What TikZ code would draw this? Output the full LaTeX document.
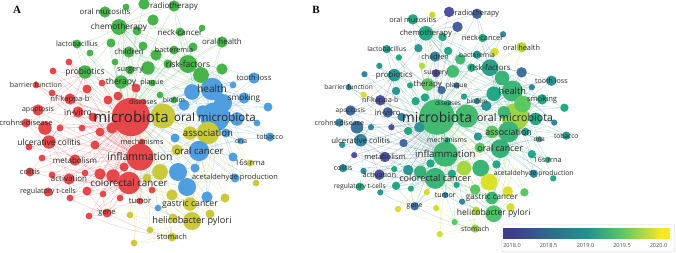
\documentclass[tikz,border=0pt]{standalone}
\usepackage{fontspec}
\setmainfont{Open Sans}
\newfontfamily\letterfont{Liberation Serif}
\pgfdeclarelayer{edges}
\pgfdeclarelayer{labels}
\pgfsetlayers{edges,main,labels}
\definecolor{cR}{HTML}{E6474A}
\definecolor{cG}{HTML}{46B34B}
\definecolor{cB}{HTML}{4F9FE0}
\definecolor{cY}{HTML}{C9C93A}
\definecolor{yA}{HTML}{5050A0}
\definecolor{yB}{HTML}{3585A0}
\definecolor{yC}{HTML}{23A884}
\definecolor{yD}{HTML}{5CC863}
\definecolor{yE}{HTML}{F2E51E}
\definecolor{barA}{HTML}{3F3D8A}
\definecolor{barB}{HTML}{30698E}
\definecolor{barC}{HTML}{21918C}
\definecolor{barD}{HTML}{5EC962}
\definecolor{barE}{HTML}{FDE725}
\definecolor{labtxt}{HTML}{262626}
\pgfdeclarehorizontalshading{viridisH}{100bp}{color(0bp)=(barA); color(25bp)=(barA); color(27.7bp)=(barA); color(38.5bp)=(barB); color(50bp)=(barC); color(61bp)=(barD); color(72.5bp)=(barE); color(75bp)=(barE); color(100bp)=(barE)}
\def\NodeList{%
micro/131/117/17/cR/yC!45!yD,
oralmic/215/117/13/cB/yD!55!yE,
health/212/89/10/cB/yC!55!yD,
assoc/208/133/10/cY/yC!60!yD,
oralcan/199/151/9/cB/yC!70!yD,
inflam/140/157/12/cR/yC!50!yD,
colorec/129/183/10/cR/yC!60!yD,
helico/192/221/8/cY/yD!80!yC,
gastric/190/204/6/cY/yC!50!yD,
chemo/119/27/7/cG/yC,
risk/188/64/8/cG/yC!80!yB,
therapy/121/82/6/cG/yD,
probio/85/72/6/cG/yB!50!yC,
oralhealth/222/42/5/cG/yD!40!yE,
neck/180/32/4/cG/yC,
radio/174/6/5/cG/yA!60!yB,
mucos/105/12/5/cG/yC,
lacto/77/44/4/cG/yC!70!yB,
children/129/52/5/cG/yB,
bacter/174/50/4/cG/yB!50!yC,
surgery/130/70/4/cG/yA,
plaque/152/83/3/cG/yA!50!yB,
biofilm/174/100/3/cG/yB,
diseases/143/102/3/cR/yC,
tooth/254/78/5/cB/yB!60!yC,
smoking/244/98/5/cB/yC,
dna/241/141/3/cB/yC,
tobacco/270/137/4/cB/yB!50!yC,
rrna/250/163/3/cY/yC,
acetal/235/178/4/cB/yB,
stomach/172/237/4/cY/yD!60!yE,
tumor/140/201/3/cR/yB,
gene/107/213/4/cR/yB!60!yA,
mech/142/142/3/cR/yC,
metab/75/160/5/cR/yA,
ulcer/49/142/6/cR/yB,
colitis/30/172/4/cR/yB!50!yC,
activ/69/179/5/cR/yA,
regt/48/192/4/cR/yC,
crohn/26/123/4/cR/yB,
apop/38/110/5/cR/yA!50!yB,
invitro/78/112/5/cR/yA!60!yB,
nfkb/70/99/5/cR/yA,
barrier/36/85/3/cR/yB,
g1/144/4/5/cG/yA,
g2/126/7/3/cG/yD!30!yE,
g3/153/20/5/cG/yA!70!yB,
g4/137/31/4/cG/yC,
g5/111/43/4/cG/yB!40!yC,
g6/143/46/4/cG/yC,
g7/156/55/5/cG/yC!50!yD,
g8/90/53/3/cG/yC,
g9/115/62/3/cG/yD!40!yE,
g10/148/68/6/cG/yC!40!yD,
g11/168/64/4/cG/yC,
g12/201/75/7/cG/yC!60!yD,
g13/222/69/5/cG/yA!40!yB,
g14/193/47/4/cG/yE!80!yD,
g15/202/28/3/cG/yB,
g16/160/95/3/cG/yC,
r1/69/62/3/cR/yB!50!yC,
r2/53/71/3/cR/yB,
r3/87/89/4/cR/yB!50!yC,
r4/102/83/3/cR/yC,
r5/136/88/4/cR/yA!50!yB,
r6/108/100/4/cR/yC,
r7/93/117/4/cR/yB,
r8/45/128/6/cR/yB!70!yA,
r9/52/93/3/cR/yE!80!yD,
r10/100/132/4/cR/yC,
r11/95/145/4/cR/yA!50!yB,
r12/29/147/3/cR/yB!50!yC,
r13/42/158/3/cR/yA,
r14/52/175/3/cR/yB,
r15/85/173/3/cR/yC,
r16/100/174/5/cR/yB!50!yC,
r17/113/176/6/cR/yC!70!yD,
r18/124/167/4/cR/yC,
r19/87/191/4/cR/yC,
r20/70/198/3/cR/yB!40!yC,
r21/103/194/3/cR/yC,
r22/120/198/3/cR/yE!80!yD,
r23/89/216/3/cR/yE!80!yD,
r24/152/190/3/cR/yC,
r25/112/128/5/cR/yB!50!yC,
r26/118/96/4/cR/yC,
r27/60/128/3/cR/yB,
r28/82/128/3/cR/yA,
b1/192/92/7/cB/yC,
b2/184/105/5/cB/yB!60!yC,
b3/223/103/8/cB/yD,
b4/237/119/6/cB/yC,
b5/257/123/3/cB/yB,
b6/268/107/4/cB/yC,
b7/233/85/3/cB/yB,
b8/175/138/4/cB/yB!40!yC,
b9/178/172/8/cB/yC!60!yD,
b10/187/187/8/cB/yE!85!yD,
b11/207/197/5/cB/yE!85!yD,
b12/195/168/4/cB/yC,
b13/233/157/4/cB/yC,
b14/158/208/3/cB/yB,
b15/203/112/6/cB/yC!50!yD,
b16/226/133/4/cB/yB!40!yC,
y1/163/116/11/cY/yC!40!yD,
y2/190/133/6/cY/yD,
y3/160/172/7/cY/yD!50!yE,
y4/147/178/4/cY/yC,
y5/172/195/5/cY/yD,
y6/130/215/3/cY/yE!80!yD,
y7/134/243/3/cY/yE!80!yD,
y8/150/230/3/cY/yD,
y9/173/218/4/cY/yD!50!yE,
y10/256/183/3/cY/yC,
y11/225/198/4/cY/yD,
y12/210/214/4/cY/yE!80!yD,
y13/177/150/5/cY/yD}
\def\LabelList{%
micro/microbiota/15,
oralmic/oral microbiota/11.5,
health/health/10,
assoc/association/9.6,
oralcan/oral cancer/9.5,
inflam/inflammation/10.4,
colorec/colorectal cancer/9.8,
helico/helicobacter pylori/9.2,
gastric/gastric cancer/8.7,
chemo/chemotherapy/8.3,
risk/risk-factors/8.5,
therapy/therapy/8.5,
probio/probiotics/8.5,
oralhealth/oral health/7.9,
neck/neck-cancer/8,
radio/radiotherapy/8,
mucos/oral mucositis/7.8,
lacto/lactobacillus/7.3,
children/children/7.8,
bacter/bacteremia/7.3,
surgery/surgery/7.4,
plaque/plaque/7.2,
biofilm/biofilm/6.8,
diseases/diseases/7,
tooth/tooth loss/7.6,
smoking/smoking/8.2,
dna/dna/6.7,
tobacco/tobacco/7.1,
rrna/16s rrna/7.8,
acetal/acetaldehyde production/7.4,
stomach/stomach/7.5,
tumor/tumor/7.7,
gene/gene/7.5,
mech/mechanisms/7.3,
metab/metabolism/8,
ulcer/ulcerative colitis/8.5,
colitis/colitis/7.5,
activ/activation/8,
regt/regulatory t-cells/7.2,
crohn/crohns-disease/7.6,
apop/apoptosis/7,
invitro/in-vitro/8.4,
nfkb/nf-kappa-b/7.7,
barrier/barrier function/7.1}
\def\EdgeList{%
micro/{oralmic,health,assoc,oralcan,inflam,colorec,helico,gastric,chemo,risk,therapy,probio,oralhealth,neck,radio,mucos,lacto,children,bacter,surgery,plaque,biofilm,diseases,tooth,smoking,dna,tobacco,rrna,acetal,stomach,tumor,gene,mech,metab,ulcer,colitis,activ,regt,crohn,apop,invitro,nfkb,barrier,g1,g2,g3,g4,g5,g6,g7,g8,g9,g10,g11,g12,g13,g14,g15,g16,r1,r2,r3,r4,r5,r6,r7,r8,r9,r10,r11,r12,r13,r14,r15,r16,r17,r18,r19,r20,r21,r22,r23,r24,r25,r26,r27,r28,b1,b2,b3,b4,b5,b6,b7,b8,b9,b10,b11,b12,b13,b14,b15,b16,y1,y2,y3,y4,y5,y6,y7,y8,y9,y10,y11,y12,y13},
inflam/{metab,ulcer,colitis,activ,regt,crohn,apop,invitro,nfkb,barrier,gene,tumor,colorec,diseases,mech,r1,r2,r3,r4,r5,r6,r7,r8,r9,r10,r11,r12,r13,r14,r15,r16,r17,r18,r19,r20,r21,r22,r23,r24,r25,r26,r27,r28,oralcan,probio,assoc,helico,health,y1,y3,y4,b9},
colorec/{gene,tumor,metab,activ,regt,colitis,ulcer,r11,r13,r14,r15,r16,r17,r18,r19,r20,r21,r22,r23,r24,helico,gastric,stomach,assoc,oralcan,y3,y4,y5,y6,y7,y8,y9,y12,b9,b10,b12,b14},
health/{tooth,smoking,oralmic,oralcan,assoc,risk,oralhealth,b1,b2,b3,b4,b5,b6,b7,b15,tobacco,dna,g10,g11,g12,g13,g14,g16,neck,radio,chemo,biofilm,plaque,children,y1,y2},
oralmic/{tooth,smoking,tobacco,dna,rrna,acetal,oralcan,assoc,chemo,risk,oralhealth,g12,g13,b1,b2,b3,b4,b5,b6,b7,b8,b9,b10,b11,b12,b13,b15,b16,y1,y2,y10,y11,y13,helico,gastric},
chemo/{radio,mucos,neck,children,risk,therapy,g1,g2,g3,g4,g5,g6,g7,g8,g9,g10,lacto,probio,bacter,surgery,oralhealth,oralcan},
risk/{neck,oralhealth,bacter,g11,g12,g13,g14,g15,tooth,smoking,oralcan,g7,g10,children,radio,b1,b7},
therapy/{probio,surgery,plaque,children,g8,g9,g10,r4,r5,r26,diseases,biofilm,lacto},
helico/{gastric,stomach,y4,y5,y6,y7,y8,y9,y11,y12,assoc,oralcan,b10,b11,b14,tumor},
oralcan/{tobacco,acetal,smoking,dna,rrna,b8,b9,b10,b11,b12,b13,y10,y11,y12,gastric,y5},
assoc/{y1,y2,y13,b8,b15,b16,smoking,tobacco,acetal,gastric,dna},
y1/{y2,y13,b2,b8,mech,diseases,biofilm},
probio/{lacto,invitro,nfkb,barrier,ulcer,r1,r2,r3,r9,r4,apop},
ulcer/{crohn,colitis,apop,r8,r12,r27,regt,metab,activ},
stomach/{y6,y7,y8,y9,gene,r23},
gene/{r19,r20,r21,r23,tumor,y6},
nfkb/{invitro,apop,barrier,r3,r9,crohn}}
\tikzset{
  dot/.style={circle, inner sep=0pt, outer sep=0pt},
  lab/.style={inner sep=0pt, text=labtxt},
  edge/.style={line width=0.35pt, draw opacity=0.35},
  letter/.style={font=\letterfont\bfseries\fontsize{11}{11}\selectfont, inner sep=0pt},
  tick/.style={font=\fontsize{5.6}{5.6}\selectfont, text=black!70, inner sep=0pt}
}
\foreach \nid/\nx/\ny/\nr/\ncl/\nyr in \NodeList {%
  \edef\tmp{\noexpand\xglobal\noexpand\colorlet{A-\nid}{\ncl}\noexpand\xglobal\noexpand\colorlet{B-\nid}{\nyr}}\tmp
}
\newcommand\drawpanel[1]{%
  \foreach \nid/\nx/\ny/\nr/\ncl/\nyr in \NodeList {
    \node[dot, fill=#1-\nid, minimum size=2.25*\nr pt] (#1-\nid) at (\nx,\ny) {};
  }
  \begin{pgfonlayer}{edges}
    \foreach \src/\tlist in \EdgeList {
      \foreach \tgt in \tlist {
        \draw[edge, draw=#1-\tgt] (#1-\src) to[bend left=7] (#1-\tgt);
      }
    }
  \end{pgfonlayer}
  \begin{pgfonlayer}{labels}
    \foreach \nid/\txt/\fs in \LabelList {
      \node[lab, font=\fontsize{\fs}{\fs}\selectfont] (#1-\nid-l) at (#1-\nid.center) {\txt};
    }
  \end{pgfonlayer}
}
\begin{document}
\begin{tikzpicture}[x=1pt, y=-1pt]
\useasboundingbox (0,0) rectangle (676,252);
\drawpanel{A}
\begin{scope}[shift={(315.17,8.19)}, scale=0.93, transform shape]
\drawpanel{B}
\end{scope}
\node[letter] (letA) at (17,9.5) {A};
\node[letter] (letB) at (316,9.5) {B};
\node[draw=black!15, fill=white, rounded corners=2pt, line width=0.5pt, minimum width=173pt, minimum height=27pt, anchor=north west, inner sep=0pt] (legbox) at (501.5,224.5) {};
\node[shade, shading=viridisH, minimum width=167pt, minimum height=10pt, anchor=north west, inner sep=0pt] (cbar) at (503,228) {};
\node[tick] (t0) at (512,246) {2018.0};
\node[tick] (t1) at (548.5,246) {2018.5};
\node[tick] (t2) at (585.5,246) {2019.0};
\node[tick] (t3) at (622,246) {2019.5};
\node[tick] (t4) at (658.5,246) {2020.0};
\end{tikzpicture}
\end{document}
